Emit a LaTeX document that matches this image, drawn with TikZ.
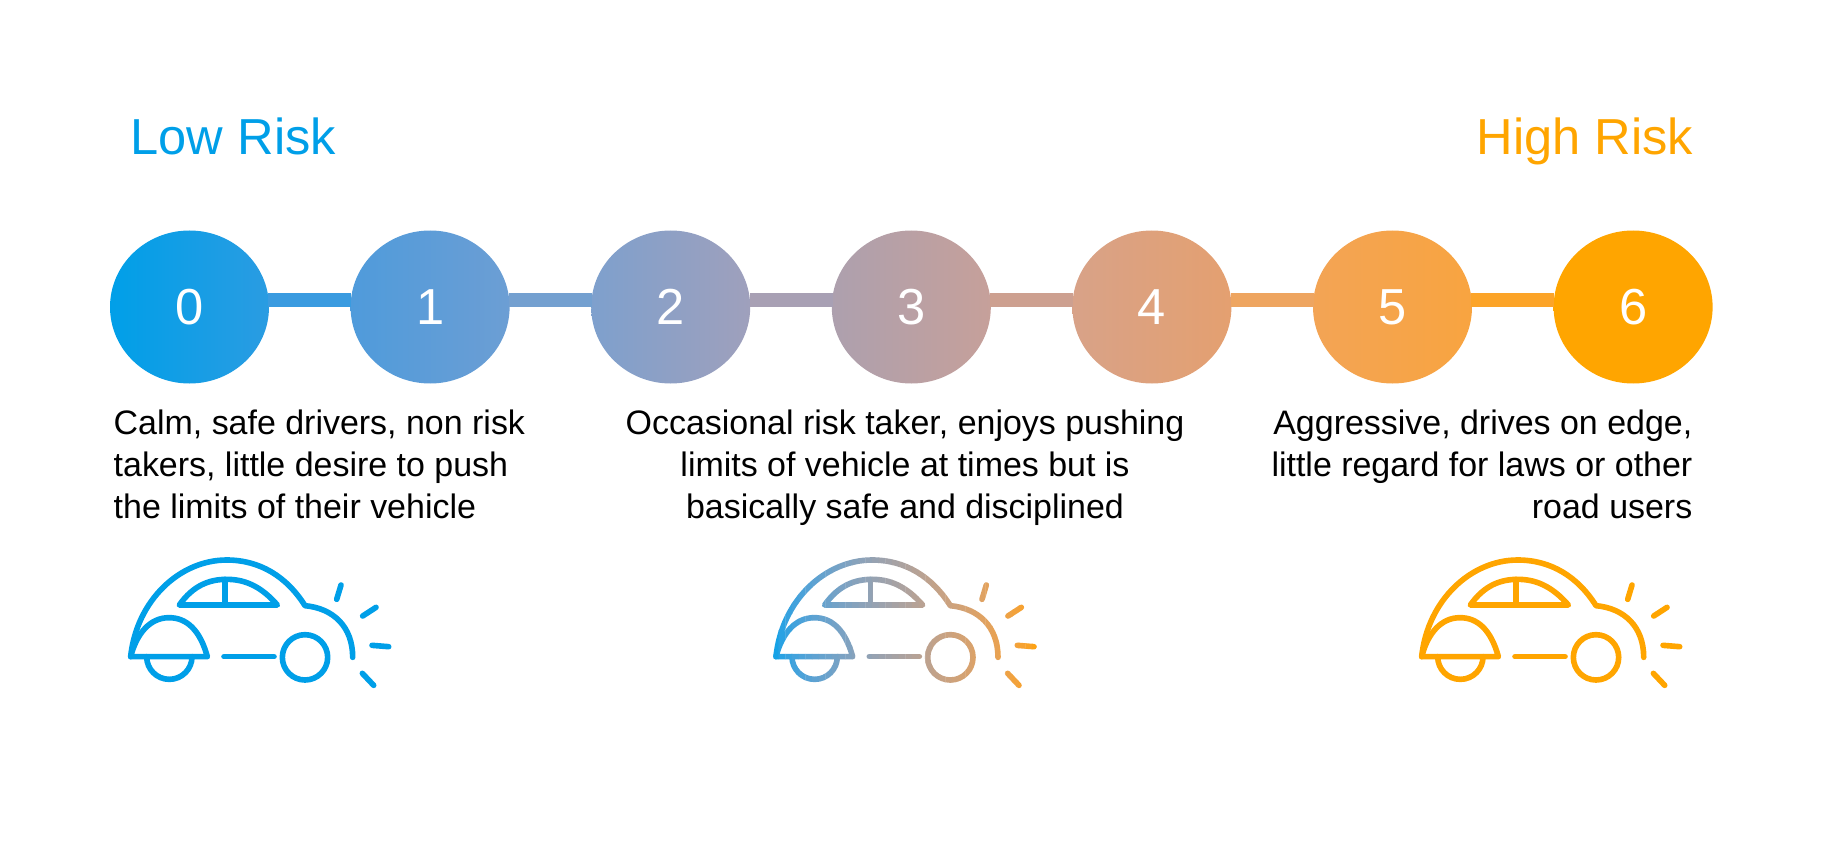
\documentclass[tikz,border=0pt]{standalone}
\usepackage{fontspec}
\setmainfont{Liberation Sans}
\usetikzlibrary{calc,shapes.geometric}
\definecolor{lowrisk}{HTML}{009FE8}
\definecolor{highrisk}{HTML}{FFA500}
\tikzset{
  riskdot/.style={ellipse, minimum width=1.59cm, minimum height=1.53cm, inner sep=0pt, text=white, font=\fontsize{14.4}{16}\selectfont},
  risklink/.style={line width=3.7pt, shorten <=-0.4pt, shorten >=-0.4pt},
  riskhead/.style={font=\fontsize{14.4}{16}\selectfont},
  riskbody/.style={font=\fontsize{9.66}{11.96}\selectfont, text=black, inner sep=0pt},
  carline/.style={line width=1.6pt, line cap=round, line join=round},
}
% car outline, in units of a third of a pixel
\newcommand{\caroutline}{
  \draw[carline] (92,350) .. controls (110,180) and (240,60) .. (380,60) .. controls (480,60) and (560,110) .. (615,197) .. controls (700,205) and (758,260) .. (758,352);
  \draw[carline] (238,195) -- (532,195) .. controls (480,135) and (430,118) .. (380,118) .. controls (330,118) and (280,135) .. (238,195) -- cycle;
  \draw[carline] (375,118) -- (375,195);
  \draw[carline] (92,350) -- (322,350) .. controls (300,270) and (260,233) .. (207,233) .. controls (150,233) and (110,280) .. (92,350) -- cycle;
  \draw[carline] (140,350) arc[start angle=180, end angle=0, radius=68];
  \draw[carline] (372,350) -- (522,350);
  \draw[carline] (615,352) circle[radius=68];
  \draw[carline] (710,178) -- (723,135);
  \draw[carline] (788,228) -- (828,202);
  \draw[carline] (816,316) -- (866,320);
  \draw[carline] (787,400) -- (821,436);
}
\begin{document}
\begin{tikzpicture}
\useasboundingbox (0,0) rectangle (18.31,8.51);
% heading
\node[riskhead, text=lowrisk, anchor=base west, inner sep=0pt] (low) at (1.30,6.965) {Low Risk};
\node[riskhead, text=highrisk, anchor=base east, inner sep=0pt] (high) at (16.94,6.965) {High Risk};
% the scale
\foreach \n/\lc/\rc in {0/009FE8/2A9CE2, 1/4F9BDB/6C9ED4, 2/7EA0CD/9FA0BC, 3/ADA0AE/C6A09A, 4/D8A288/E4A070, 5/F3A455/F8A440, 6/FFA500/FFA500} {
  \definecolor{lc\n}{HTML}{\lc}
  \definecolor{rc\n}{HTML}{\rc}
  \node[riskdot, left color=lc\n, right color=rc\n] (d\n) at ({1.895+2.406*\n},5.44) {\raisebox{-0.65pt}{\n}};
}
\foreach \a/\b/\c in {0/1/3A9BE0, 1/2/74A0D0, 2/3/A8A0B4, 3/4/CDA090, 4/5/EEA560, 5/6/FCA428} {
  \definecolor{lk\a}{HTML}{\c}
  \draw[risklink, draw=lk\a] ([yshift=0.07cm]d\a.east) -- ([yshift=0.07cm]d\b.west);
}
% texts
\node[riskbody, anchor=north west, align=left] (calm) at (1.13,4.42) {Calm, safe drivers, non risk\\takers, little desire to push\\the limits of their vehicle};
\node[riskbody, anchor=north, align=center] (occ) at (9.05,4.42) {Occasional risk taker, enjoys pushing\\limits of vehicle at times but is\\basically safe and disciplined};
\node[riskbody, anchor=north east, align=right] (aggr) at (16.93,4.42) {Aggressive, drives on edge,\\little regard for laws or other\\road users};
% cars
\begin{scope}[shift={(1.00,3.11)}, x=0.033333mm, y=-0.033333mm]
\tikzset{carline/.append style={draw=lowrisk}}
\caroutline
\end{scope}
\begin{scope}[shift={(7.453,3.11)}, x=0.033333mm, y=-0.033333mm]
\foreach \s in {0,...,39} {
  \pgfmathsetmacro{\tval}{(\s+0.5)/40}
  \pgfmathtruncatemacro{\rr}{255*pow(\tval,0.55)}
  \pgfmathtruncatemacro{\bb}{232*pow(1-\tval,0.55)}
  \definecolor{strip}{RGB}{\rr,162,\bb}
  \begin{scope}
  \clip ({80+\s*20},0) rectangle ({80+(\s+1)*20+1},500);
  \tikzset{carline/.append style={draw=strip}}
  \caroutline
  \end{scope}
}
\end{scope}
\begin{scope}[shift={(13.91,3.11)}, x=0.033333mm, y=-0.033333mm]
\tikzset{carline/.append style={draw=highrisk}}
\caroutline
\end{scope}
\end{tikzpicture}
\end{document}
